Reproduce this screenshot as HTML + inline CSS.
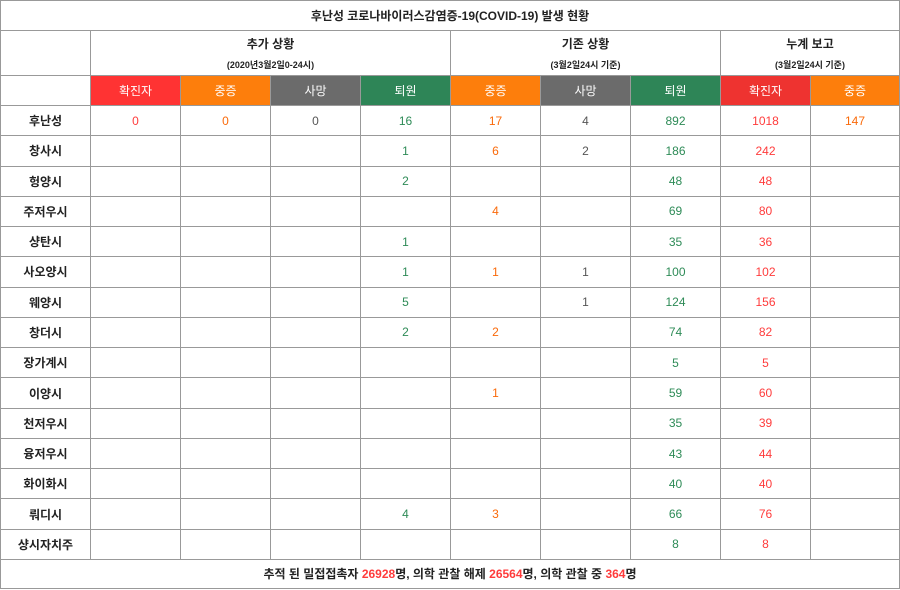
<!DOCTYPE html><html><head><meta charset="utf-8"><style>
body{margin:0;width:900px;height:590px;background:#fff;font-family:"Liberation Sans","Noto Sans CJK KR","NanumGothic",sans-serif;font-size:12px;color:#222;overflow:hidden}
table{position:absolute;left:0;top:0;border-collapse:collapse;table-layout:fixed;width:899px}
td{border:1px solid #999;text-align:center;padding:0;height:29px;overflow:hidden}
tr.d td{height:29.27px}
.b{font-weight:bold}
.r{color:#ff3b3b}.o{color:#fa6a0a}.g{color:#2e8b57}.k{color:#555}
.hr{background:#ff3333;color:#fff}.ho{background:#fd7e0c;color:#fff}.hk{background:#6b6b6b;color:#fff}.hg{background:#2e8557;color:#fff}.hr2{background:#ee3330;color:#fff}
.sub{font-size:9px;font-weight:bold;display:block;margin-top:6px}
</style></head><body>
<table>
<colgroup><col style="width:90px"><col style="width:90px"><col style="width:90px"><col style="width:90px"><col style="width:90px"><col style="width:90px"><col style="width:90px"><col style="width:90px"><col style="width:90px"><col style="width:89px"></colgroup>
<tr><td colspan="10" class="b" style="height:29px">후난성 코로나바이러스감염증-19(COVID-19) 발생 현황</td></tr>
<tr><td style="height:44px"></td><td colspan="4" class="b">추가 상황<span class="sub">(2020년3월2일0-24시)</span></td><td colspan="3" class="b">기존 상황<span class="sub">(3월2일24시 기준)</span></td><td colspan="2" class="b">누계 보고<span class="sub">(3월2일24시 기준)</span></td></tr>
<tr><td></td><td class="hr">확진자</td><td class="ho">중증</td><td class="hk">사망</td><td class="hg">퇴원</td><td class="ho">중증</td><td class="hk">사망</td><td class="hg">퇴원</td><td class="hr2">확진자</td><td class="ho">중증</td></tr>
<tr class="d"><td class="b">후난성</td><td class="r">0</td><td class="o">0</td><td class="k">0</td><td class="g">16</td><td class="o">17</td><td class="k">4</td><td class="g">892</td><td class="r">1018</td><td class="o">147</td></tr>
<tr class="d"><td class="b">창사시</td><td></td><td></td><td></td><td class="g">1</td><td class="o">6</td><td class="k">2</td><td class="g">186</td><td class="r">242</td><td></td></tr>
<tr class="d"><td class="b">헝양시</td><td></td><td></td><td></td><td class="g">2</td><td></td><td></td><td class="g">48</td><td class="r">48</td><td></td></tr>
<tr class="d"><td class="b">주저우시</td><td></td><td></td><td></td><td></td><td class="o">4</td><td></td><td class="g">69</td><td class="r">80</td><td></td></tr>
<tr class="d"><td class="b">샹탄시</td><td></td><td></td><td></td><td class="g">1</td><td></td><td></td><td class="g">35</td><td class="r">36</td><td></td></tr>
<tr class="d"><td class="b">사오양시</td><td></td><td></td><td></td><td class="g">1</td><td class="o">1</td><td class="k">1</td><td class="g">100</td><td class="r">102</td><td></td></tr>
<tr class="d"><td class="b">웨양시</td><td></td><td></td><td></td><td class="g">5</td><td></td><td class="k">1</td><td class="g">124</td><td class="r">156</td><td></td></tr>
<tr class="d"><td class="b">창더시</td><td></td><td></td><td></td><td class="g">2</td><td class="o">2</td><td></td><td class="g">74</td><td class="r">82</td><td></td></tr>
<tr class="d"><td class="b">장가계시</td><td></td><td></td><td></td><td></td><td></td><td></td><td class="g">5</td><td class="r">5</td><td></td></tr>
<tr class="d"><td class="b">이양시</td><td></td><td></td><td></td><td></td><td class="o">1</td><td></td><td class="g">59</td><td class="r">60</td><td></td></tr>
<tr class="d"><td class="b">천저우시</td><td></td><td></td><td></td><td></td><td></td><td></td><td class="g">35</td><td class="r">39</td><td></td></tr>
<tr class="d"><td class="b">융저우시</td><td></td><td></td><td></td><td></td><td></td><td></td><td class="g">43</td><td class="r">44</td><td></td></tr>
<tr class="d"><td class="b">화이화시</td><td></td><td></td><td></td><td></td><td></td><td></td><td class="g">40</td><td class="r">40</td><td></td></tr>
<tr class="d"><td class="b">뤄디시</td><td></td><td></td><td></td><td class="g">4</td><td class="o">3</td><td></td><td class="g">66</td><td class="r">76</td><td></td></tr>
<tr class="d"><td class="b">샹시자치주</td><td></td><td></td><td></td><td></td><td></td><td></td><td class="g">8</td><td class="r">8</td><td></td></tr>
<tr><td colspan="10" class="b" style="height:28px">추적 된 밀접접촉자 <span class="r">26928</span>명, 의학 관찰 해제 <span class="r">26564</span>명, 의학 관찰 중 <span class="r">364</span>명</td></tr>
</table>
</body></html>
